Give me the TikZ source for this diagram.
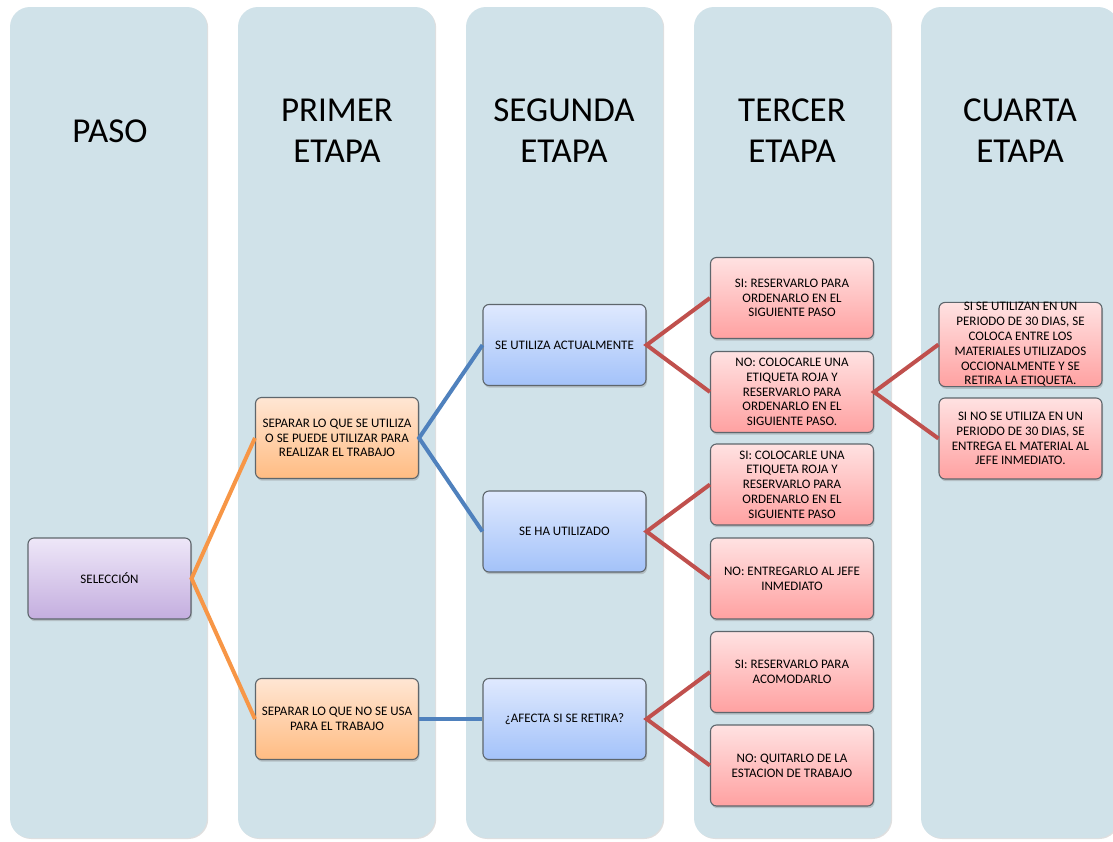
\documentclass[tikz,border=0pt]{standalone}
\usepackage{fontspec}
\setmainfont{Carlito}
\usetikzlibrary{shadows}
\definecolor{colbg}{HTML}{D0E2E9}
\definecolor{bord}{HTML}{5E666C}
\definecolor{lorange}{HTML}{F79646}
\definecolor{lblue}{HTML}{4F81BD}
\definecolor{lred}{HTML}{C0504D}
\definecolor{purT}{HTML}{EEE7F8}
\definecolor{purB}{HTML}{C4AEDF}
\definecolor{orT}{HTML}{FFE6D4}
\definecolor{orB}{HTML}{FFBC82}
\definecolor{blT}{HTML}{DFE9FE}
\definecolor{blB}{HTML}{A3C2F9}
\definecolor{rdT}{HTML}{FFE2E2}
\definecolor{rdB}{HTML}{FFA1A1}
\tikzset{
  col/.style={rounded corners=20pt, fill=colbg, minimum width=197pt, minimum height=831pt, inner sep=0pt,
    drop shadow={shadow xshift=1.2pt, shadow yshift=-1pt, opacity=0.25}},
  head/.style={font=\fontsize{35}{41}\selectfont, align=center, text=black},
  box/.style={rounded corners=6pt, draw=bord, line width=1.1pt, minimum width=163pt, minimum height=81pt,
    align=center, inner sep=0pt, font=\fontsize{13}{14.8}\selectfont,
    drop shadow={shadow xshift=1pt, shadow yshift=-2.2pt, opacity=0.35}},
  purbox/.style={box, top color=purT, bottom color=purB},
  orbox/.style={box, top color=orT, bottom color=orB},
  blbox/.style={box, top color=blT, bottom color=blB},
  rdbox/.style={box, top color=rdT, bottom color=rdB},
  conn/.style={line width=4pt},
}
\begin{document}
\begin{tikzpicture}[x=1pt,y=-1pt]
\clip (0,0) rectangle (1113,841);
\fill[white] (0,0) rectangle (1113,841);
% columns
\node[col] (c1) at (108.5,422.5) {};
\node[col] (c2) at (336.5,422.5) {};
\node[col] (c3) at (564.5,422.5) {};
\node[col] (c4) at (792.5,422.5) {};
\node[col] (c5) at (1019.5,422.5) {};
% headers
\node[head] (h1) at (110,131) {PASO};
\node[head] (h2) at (337,131) {PRIMER\\ETAPA};
\node[head] (h3) at (564,131) {SEGUNDA\\ETAPA};
\node[head] (h4) at (792,131) {TERCER\\ETAPA};
\node[head] (h5) at (1020,131) {CUARTA\\ETAPA};
% boxes
\node[purbox] (sel) at (109.5,578.5) {SELECCIÓN};
\node[orbox] (sep1) at (337,438) {SEPARAR LO QUE SE UTILIZA\\O SE PUEDE UTILIZAR PARA\\REALIZAR EL TRABAJO};
\node[orbox] (sep2) at (337,719) {SEPARAR LO QUE NO SE USA\\PARA EL TRABAJO};
\node[blbox] (act) at (564.5,345) {SE UTILIZA ACTUALMENTE};
\node[blbox] (ha) at (564.5,531.5) {SE HA UTILIZADO};
\node[blbox] (afe) at (564.5,719) {¿AFECTA SI SE RETIRA?};
\node[rdbox] (r1) at (792,298) {SI: RESERVARLO PARA\\ORDENARLO EN EL\\SIGUIENTE PASO};
\node[rdbox] (r2) at (792,392) {NO: COLOCARLE UNA\\ETIQUETA ROJA Y\\RESERVARLO PARA\\ORDENARLO EN EL\\SIGUIENTE PASO.};
\node[rdbox] (r3) at (792,484.5) {SI: COLOCARLE UNA\\ETIQUETA ROJA Y\\RESERVARLO PARA\\ORDENARLO EN EL\\SIGUIENTE PASO};
\node[rdbox] (r4) at (792,578.5) {NO: ENTREGARLO AL JEFE\\INMEDIATO};
\node[rdbox] (r5) at (792,672) {SI: RESERVARLO PARA\\ACOMODARLO};
\node[rdbox] (r6) at (792,765.5) {NO: QUITARLO DE LA\\ESTACION DE TRABAJO};
\node[rdbox] (q1) at (1020.5,344.5) {SI SE UTILIZAN EN UN\\PERIODO DE 30 DIAS, SE\\COLOCA ENTRE LOS\\MATERIALES UTILIZADOS\\OCCIONALMENTE Y SE\\RETIRA LA ETIQUETA.};
\node[rdbox] (q2) at (1020.5,438.5) {SI NO SE UTILIZA EN UN\\PERIODO DE 30 DIAS, SE\\ENTREGA EL MATERIAL AL\\JEFE INMEDIATO.};
% connectors
\draw[conn, lorange] (sep1.west) -- (sel.east) -- (sep2.west);
\draw[conn, lblue] (act.west) -- (sep1.east) -- (ha.west);
\draw[conn, lblue] (sep2.east) -- (afe.west);
\draw[conn, lred] (r1.west) -- (act.east) -- (r2.west);
\draw[conn, lred] (r3.west) -- (ha.east) -- (r4.west);
\draw[conn, lred] (r5.west) -- (afe.east) -- (r6.west);
\draw[conn, lred] (q1.west) -- (r2.east) -- (q2.west);
\end{tikzpicture}
\end{document}
